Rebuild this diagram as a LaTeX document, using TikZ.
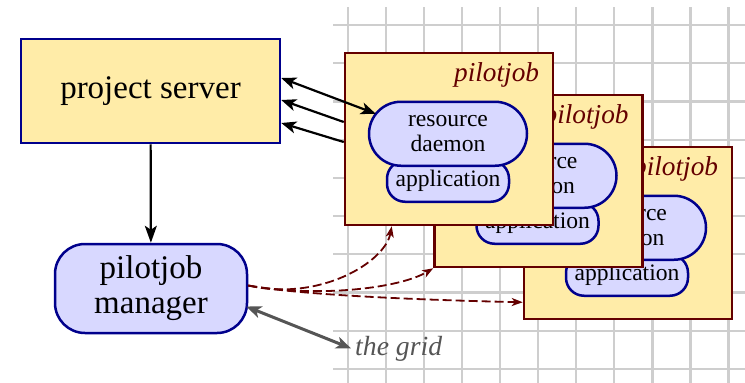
\documentclass[tikz,border=0pt]{standalone}
\usepackage{fontspec}
\setmainfont{Liberation Serif}
\usetikzlibrary{arrows.meta,calc,shapes.misc}
\definecolor{pjyellow}{RGB}{255,236,168}
\definecolor{pjlav}{RGB}{216,216,255}
\definecolor{pjnavy}{RGB}{0,0,140}
\definecolor{pjmaroon}{RGB}{100,0,0}
\definecolor{pjgrid}{RGB}{206,206,206}
\definecolor{pjgray}{RGB}{85,85,85}
\begin{document}
\begin{tikzpicture}[x=1pt,y=-1pt,
  gridline/.style={pjgrid,line width=2.2pt},
  serverbox/.style={draw=pjnavy,fill=pjyellow,line width=2.5pt,minimum width=259pt,minimum height=104pt,inner sep=0pt,font=\fontsize{33}{36}\selectfont},
  mgrbox/.style={draw=pjnavy,fill=pjlav,line width=2.5pt,rounded corners=30pt,minimum width=192pt,minimum height=89pt,inner sep=0pt,align=center,font=\fontsize{33}{35}\selectfont},
  jobbox/.style={draw=pjmaroon,fill=pjyellow,line width=2.5pt,minimum width=208pt,minimum height=172pt,inner sep=0pt},
  joblabel/.style={anchor=base east,inner sep=0pt,text=pjmaroon,font=\fontsize{27.3}{30}\selectfont\itshape},
  daemon/.style={rounded rectangle,draw=pjnavy,fill=pjlav,line width=2.5pt,minimum width=158pt,minimum height=64pt,inner sep=0pt,align=center,font=\fontsize{23.6}{24.5}\selectfont},
  appbox/.style={draw=pjnavy,fill=pjlav,line width=2.5pt,rounded corners=18pt,minimum width=122pt,minimum height=41pt,inner sep=0pt,font=\fontsize{23.6}{24.5}\selectfont},
  blackarrow/.style={draw=black,line width=2.2pt},
  bigtip/.tip={Stealth[length=15pt,width=12pt,inset=4pt]},
  smalltip/.tip={Stealth[length=11pt,width=8pt,inset=3pt]},
  dasharrow/.style={draw=pjmaroon,line width=1.8pt,dash pattern=on 9pt off 4pt,-smalltip},
  grayarrow/.style={draw=pjgray,line width=3pt,bigtip-bigtip},
  gridlabel/.style={anchor=base west,inner sep=0pt,text=pjgray,font=\fontsize{27.7}{30}\selectfont\itshape}
]
\useasboundingbox (0,0) rectangle (745,383);
% grid
\foreach \i in {0,...,10} \draw[gridline] ({348+38.05*\i},7) -- ({348+38.05*\i},383);
\foreach \j in {0,...,9} \draw[gridline] (333,{25+38.2*\j}) -- (745,{25+38.2*\j});

% pilot jobs (back to front)
\foreach \n/\cx/\cy in {3/628/233, 2/538.5/181, 1/449/139} {
  \node[jobbox] (pj\n) at (\cx,\cy) {};
  \node[appbox] (app\n) at ($(pj\n.north)+(-1,129.5)$) {application};
  \node[daemon] (rd\n) at ($(pj\n.north)+(-1,82)$) {resource\\daemon};
  \node[joblabel] (lab\n) at ($(pj\n.north east)+(-15,30)$) {pilotjob};
}

% server and manager
\node[serverbox] (ps) at (150.5,91) {project server};
\node[mgrbox] (mgr) at (151,288.5) {pilotjob\\manager};
\node[gridlabel] (grid) at (355,355) {the grid};

% connectors
\draw[blackarrow,bigtip-bigtip] ($(ps.east)+(0,-13)$) -- ($(rd1.west)+(8,-20)$);
\draw[blackarrow,-bigtip] ($(pj1.west)+(0,-17)$) -- ($(ps.east)+(0,9)$);
\draw[blackarrow,-bigtip] ($(pj1.west)+(0,3)$) -- ($(ps.east)+(0,32)$);
\draw[blackarrow,-{Stealth[length=17pt,width=12pt,inset=4pt]}] (ps) -- (mgr);

\draw[dasharrow] ($(mgr.east)+(0,-3)$) .. controls (320,302) and (385,262) .. ($(pj1.south west)+(48,0)$);
\draw[dasharrow] ($(mgr.east)+(0,-3)$) .. controls (320,298) and (400,288) .. (pj2.south west);
\draw[dasharrow] ($(mgr.east)+(0,-3)$) .. controls (300,295) and (420,300) .. ($(pj3.south west)+(0,-18)$);

\draw[grayarrow] ($(mgr.east)+(-2,18)$) -- ($(grid.west)+(-4,0)$);
\end{tikzpicture}
\end{document}
